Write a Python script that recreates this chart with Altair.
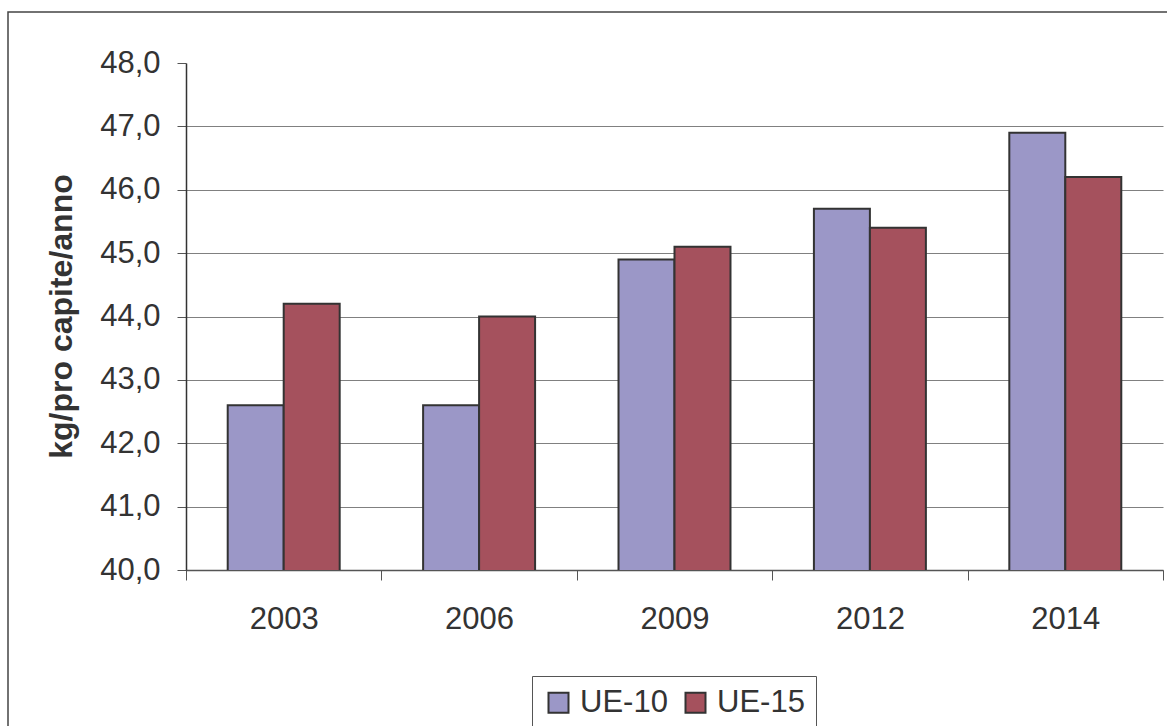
import altair as alt
import pandas as pd

# Consumo pro capite (kg/anno) per anno e gruppo di paesi
anni = ["2003", "2006", "2009", "2012", "2014"]
ue10 = [42.6, 42.6, 44.9, 45.7, 46.9]
ue15 = [44.2, 44.0, 45.1, 45.4, 46.2]
serie = ["UE-10", "UE-15"]
colori = ["#9B97C7", "#A5515D"]
tick_y = [40, 41, 42, 43, 44, 45, 46, 47, 48]

rows = []
for i, a in enumerate(anni):
    rows.append({"anno": a, "serie": "UE-10", "valore": ue10[i]})
    rows.append({"anno": a, "serie": "UE-15", "valore": ue15[i]})
df = pd.DataFrame(rows)

FONT = "Liberation Sans"
TXT = "#333333"
FS = 31

bars = alt.Chart(df).mark_bar(stroke="#333333", strokeWidth=2, clip=True).encode(
    x=alt.X(
        "anno:N",
        sort=anni,
        scale=alt.Scale(paddingInner=0, paddingOuter=0),
        axis=alt.Axis(
            title=None,
            labelAngle=0,
            labelFontSize=FS,
            labelColor=TXT,
            labelFont=FONT,
            labelPadding=24,
            tickBand="extent",
            tickSize=10,
            tickColor="#555555",
            domainColor="#555555",
            domainWidth=1.5,
            grid=False,
        ),
    ),
    xOffset=alt.XOffset(
        "serie:N",
        sort=serie,
        scale=alt.Scale(paddingInner=0, paddingOuter=0.745),
    ),
    y=alt.Y(
        "valore:Q",
        scale=alt.Scale(domain=[40, 48], nice=False, zero=False),
        axis=alt.Axis(
            title="kg/pro capite/anno",
            titleFont=FONT,
            titleFontSize=32,
            titleFontWeight="bold",
            titleColor=TXT,
            titleAngle=270,
            titleAlign="center",
            titleBaseline="middle",
            titleX=-125,
            titleY=253,
            values=tick_y,
            labelExpr="replace(format(datum.value, '.1f'), '.', ',')",
            labelFontSize=FS,
            labelFont=FONT,
            labelColor=TXT,
            labelPadding=17,
            tickSize=9,
            tickColor="#555555",
            domainColor="#333333",
            domainWidth=1.5,
            grid=True,
            gridColor="#808080",
            gridWidth=1,
            gridOpacity={"condition": {"test": "datum.value == 48", "value": 0}, "value": 1},
        ),
    ),
    color=alt.Color(
        "serie:N",
        sort=serie,
        scale=alt.Scale(domain=serie, range=colori),
        legend=alt.Legend(
            title=None,
            orient="none",
            legendX=346,
            legendY=613,
            direction="horizontal",
            symbolType="square",
            symbolSize=400,
            symbolStrokeColor="#333333",
            symbolStrokeWidth=2,
            labelFontSize=FS,
            labelFont=FONT,
            labelColor=TXT,
            labelOffset=6,
            columnPadding=12,
            strokeColor="#555555",
            padding=11,
        ),
    ),
)

# cornice esterna del grafico
frame = alt.Chart(alt.Data(values=[{}])).mark_rect(
    fill="transparent", stroke="#444444", strokeWidth=1.5
).encode(
    x=alt.value(-178), x2=alt.value(1100),
    y=alt.value(-51), y2=alt.value(800),
)

chart = alt.layer(frame, bars).properties(
    width=977,
    height=507,
    padding={"left": 186, "top": 63, "right": 4, "bottom": 156},
    autosize=alt.AutoSizeParams(type="none"),
    background="white",
).configure_view(stroke=None)

chart.save("out.html", embed_options={"renderer": "svg", "actions": False})
